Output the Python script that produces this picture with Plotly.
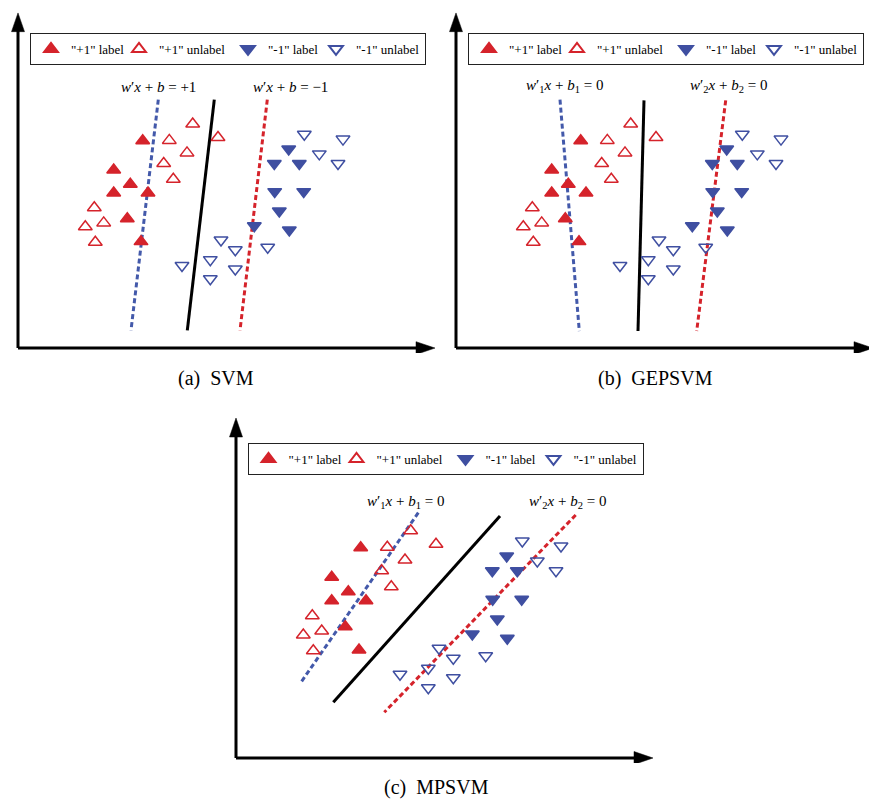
import plotly.graph_objects as go

PAGE_W, PAGE_H = 877, 799
OFF = 8                       # browser body margin
W, H = PAGE_W - OFF, PAGE_H - OFF

# ---- data (local panel coordinates, same sample drawn in each panel) ----
pos_lab_x = [124.7, 95.7, 112.3, 95.7, 130.0, 109.3, 123.0]
pos_lab_y = [210.3, 180.7, 166.3, 157.3, 157.3, 131.3, 108.0]
pos_unl_x = [174.7, 151.3, 200.0, 169.0, 145.7, 155.3, 76.3, 85.7, 67.3, 77.3]
pos_unl_y = [227.3, 210.7, 213.7, 198.0, 187.3, 171.3, 142.3, 127.0, 123.0, 107.3]
neg_lab_x = [270.7, 256.3, 281.3, 256.7, 285.7, 261.3, 236.3, 271.3]
neg_lab_y = [202.0, 187.3, 187.3, 158.7, 158.7, 139.0, 124.0, 119.7]
neg_unl_x = [286.3, 325.0, 301.3, 320.0, 203.0, 217.3, 249.7, 192.3, 164.0, 217.3, 192.3]
neg_unl_y = [217.0, 212.0, 197.0, 187.3, 109.7, 99.7, 102.3, 89.7, 83.7, 80.3, 70.3]

legend_names = ['"+1" label', '"+1" unlabel', '"-1" label', '"-1" unlabel']
captions = ['(a)\u2002SVM', '(b)\u2002GEPSVM', '(c)\u2002MPSVM']

# hyperplane end points per panel: (blue dashed, black solid, red dashed)
svm_lines = {'blue': ([140.3, 113.0], [252.0, 18.0]),
             'black': ([196.3, 169.3], [252.0, 18.0]),
             'red': ([249.3, 222.0], [252.0, 18.0])}
gep_lines = {'blue': ([104.0, 123.3], [252.0, 17.3]),
             'black': ([188.0, 182.0], [251.3, 17.3]),
             'red': ([269.7, 240.7], [251.3, 17.3])}
mp_lines = {'blue': ([182.3, 64.7], [245.3, 75.3]),
            'black': ([264.0, 97.3], [242.0, 55.7]),
            'red': ([339.7, 148.3], [243.0, 45.7])}
all_lines = [svm_lines, gep_lines, mp_lines]

eq_svm = ['<i>w</i>′<i>x</i> + <i>b</i> = +1', '<i>w</i>′<i>x</i> + <i>b</i> = −1']
eq_gep = ['<i>w</i>′<sub>1</sub><i>x</i> + <i>b</i><sub>1</sub> = 0',
          '<i>w</i>′<sub>2</sub><i>x</i> + <i>b</i><sub>2</sub> = 0']
all_eqs = [eq_svm, eq_gep, eq_gep]
eq_pos = [[(140, 265.3), (272.5, 265.3)],
          [(108.7, 266.3), (272.3, 266.3)],
          [(169.8, 256.3), (331.0, 256.3)]]

# ---- layout geometry (page pixels) ----
corners = [(18, 348), (456, 348), (236, 758)]   # axis origin
XR = [-10, 419]
YR = [-5, 345]
AX_LEN_X, AX_LEN_Y = 417, 340
legend_boxes = [(30.0, 33), (468.0, 33), (247.5, 443)]
caption_pos = [(216, 378), (655, 378), (436, 787)]

RED = '#D5232B'
BLUE = '#3F4FA1'
BLUE_LINE = '#4359AA'
FONT = 'Liberation Serif, Times New Roman, serif'

fig = go.Figure()
layout = dict(width=W, height=H, margin=dict(l=0, r=0, t=0, b=0),
              paper_bgcolor='white', plot_bgcolor='rgba(0,0,0,0)',
              font=dict(family=FONT, color='black'), showlegend=True)
shapes, annotations = [], []

marker_specs = [
    (pos_lab_x, pos_lab_y, 'triangle-up', RED),
    (pos_unl_x, pos_unl_y, 'triangle-up-open', RED),
    (neg_lab_x, neg_lab_y, 'triangle-down', BLUE),
    (neg_unl_x, neg_unl_y, 'triangle-down-open', BLUE),
]
legend_widths = [43, 64, 43, 64]


def fx(p):
    return min(1.0, max(0.0, (p - OFF) / W))


def fy(p):
    return min(1.0, max(0.0, 1 - (p - OFF) / H))


for i in range(3):
    sfx = '' if i == 0 else str(i + 1)
    xa, ya = 'x' + sfx, 'y' + sfx
    lg = 'legend' + sfx
    cx, cy = corners[i]
    layout['xaxis' + sfx] = dict(domain=[fx(cx + XR[0]), fx(cx + XR[1])], range=XR,
                                 visible=False, fixedrange=True, anchor=ya)
    layout['yaxis' + sfx] = dict(domain=[fy(cy - YR[0]), fy(cy - YR[1])],
                                 range=YR, visible=False, fixedrange=True, anchor=xa)
    # hyperplanes
    ln = all_lines[i]
    fig.add_trace(go.Scatter(x=ln['blue'][0], y=ln['blue'][1], mode='lines', xaxis=xa, yaxis=ya,
                             line=dict(color=BLUE_LINE, width=3, dash='5px,3px'),
                             showlegend=False, hoverinfo='skip'))
    fig.add_trace(go.Scatter(x=ln['black'][0], y=ln['black'][1], mode='lines', xaxis=xa, yaxis=ya,
                             line=dict(color='black', width=3), showlegend=False, hoverinfo='skip'))
    fig.add_trace(go.Scatter(x=ln['red'][0], y=ln['red'][1], mode='lines', xaxis=xa, yaxis=ya,
                             line=dict(color=RED, width=3, dash='5px,3px'),
                             showlegend=False, hoverinfo='skip'))
    # samples
    for k, (xs, ys, sym, col) in enumerate(marker_specs):
        fig.add_trace(go.Scatter(x=xs, y=ys, mode='markers', xaxis=xa, yaxis=ya,
                                 name=legend_names[k], legend=lg, legendwidth=legend_widths[k],
                                 marker=dict(symbol=sym, size=12, color=col,
                                             line=dict(color=col, width=1.5)),
                                 cliponaxis=False))
    # coordinate axes with arrows
    shapes.append(dict(type='line', xref=xa, yref=ya, x0=0, y0=0, x1=0, y1=AX_LEN_Y - 12,
                       line=dict(color='black', width=3)))
    shapes.append(dict(type='line', xref=xa, yref=ya, x0=0, y0=0, x1=AX_LEN_X - 12, y1=0,
                       line=dict(color='black', width=3)))
    shapes.append(dict(type='path', xref=xa, yref=ya,
                       path=f'M -6.5,{AX_LEN_Y - 19} L 0,{AX_LEN_Y} L 6.5,{AX_LEN_Y - 19} Z',
                       fillcolor='black', line=dict(color='black', width=0.5)))
    shapes.append(dict(type='path', xref=xa, yref=ya,
                       path=f'M {AX_LEN_X - 19},-6.5 L {AX_LEN_X},0 L {AX_LEN_X - 19},6.5 Z',
                       fillcolor='black', line=dict(color='black', width=0.5)))
    # equations
    for j in range(2):
        ex, ey = eq_pos[i][j]
        annotations.append(dict(x=ex, y=ey, xref=xa, yref=ya, text=all_eqs[i][j], showarrow=False,
                                xanchor='center', yanchor='middle',
                                font=dict(family=FONT, size=15, color='black')))
    # caption
    px, py = caption_pos[i]
    annotations.append(dict(x=fx(px), y=fy(py), xref='paper', yref='paper', text=captions[i],
                            showarrow=False, xanchor='center', yanchor='middle',
                            font=dict(family=FONT, size=20, color='black')))
    # legend box
    lx, ly = legend_boxes[i]
    layout[lg] = dict(x=fx(lx), y=fy(ly), xanchor='left', yanchor='top', orientation='h',
                      bordercolor='#222', borderwidth=1, bgcolor='white',
                      font=dict(family=FONT, size=13, color='black'), itemsizing='constant')

layout['shapes'] = shapes
layout['annotations'] = annotations
fig.update_layout(**layout)
fig.write_html('out.html')
